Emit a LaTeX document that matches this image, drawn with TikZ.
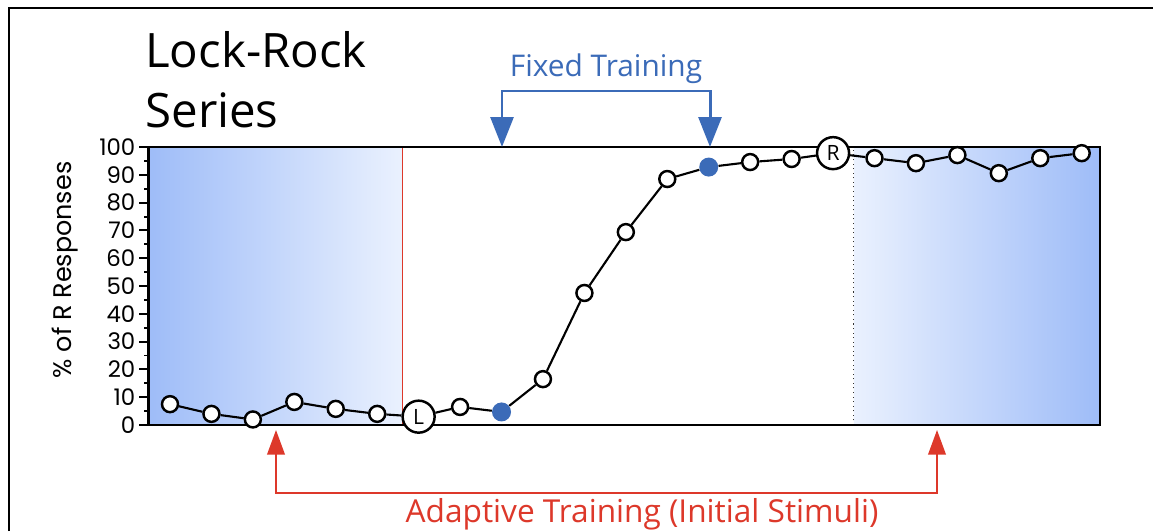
\documentclass[tikz,border=0pt]{standalone}
\usepackage{fontspec}
\setmainfont{Open Sans}
\newfontfamily\tickfont{Poppins}
\usetikzlibrary{
    arrows.meta, % For the triangle tips of the brackets
    calc         % For coordinate calculations
}

\definecolor{fixblue}{RGB}{59,107,184}
\definecolor{adaptred}{RGB}{221,56,42}
\definecolor{deepshade}{RGB}{158,188,248}
\definecolor{paleshade}{RGB}{234,241,254}

\begin{document}
\begin{tikzpicture}[
    x=0.02cm, y=-0.02cm, % one unit is one pixel of the layout, y runs downwards
    open_point/.style={circle, draw=black, fill=white, line width=1.4pt, minimum size=0.32cm, inner sep=0pt},
    fixed_point/.style={circle, fill=fixblue, minimum size=0.38cm, inner sep=0pt},
    probe_point/.style={circle, draw=black, fill=white, line width=1.4pt, minimum size=0.64cm, inner sep=0pt, font=\fontsize{12}{12}\selectfont},
    link_line/.style={black, line width=1.2pt},
    axis_line/.style={black, line width=1.1pt},
    tick_label/.style={font=\tickfont\fontsize{13}{13}\selectfont, anchor=east, inner sep=1.5pt},
    fix_arrow/.style={draw=fixblue, line width=1.7pt, {Triangle[length=17pt,width=13pt]}-{Triangle[length=17pt,width=13pt]}},
    adapt_arrow/.style={draw=adaptred, line width=1.1pt, {Triangle[length=14pt,width=10pt]}-{Triangle[length=14pt,width=10pt]}}
]
    \useasboundingbox (0,0) rectangle (1153,531);
    \fill[white] (0,0) rectangle (1153,531);

    % Plot edges in trial units
    \def\xl{0.47}
    \def\xr{23.44}

    \begin{scope}[shift={(128.55,425)}, x=0.829cm, y=0.0556cm]
        % Shaded adaptive blocks
        \fill[left color=deepshade, right color=paleshade] (\xl,0) rectangle (6.6,100);
        \fill[left color=paleshade, right color=deepshade] (17.5,0) rectangle (\xr,100);
        \draw[adaptred, line width=0.5pt] (6.6,0) -- (6.6,100);
        \draw[black!80, dotted, line width=0.6pt] (17.5,0) -- (17.5,100);

        % Frame and y axis
        \draw[axis_line] (\xl,100) -- (\xr,100) -- (\xr,0) -- (\xl,0);
        \draw[black, line width=1.7pt] (\xl,0) -- (\xl,100);
        \foreach \v in {0,10,...,100}
            \draw[axis_line] (\xl,\v) -- ++(-0.22,0) node[tick_label] (tick\v) {\v};
        \foreach \v in {5,15,...,95}
            \draw[axis_line] (\xl,\v) -- ++(-0.1,0);

        % Data points
        \foreach \i/\v/\s in {1/7.5/open_point, 2/4/open_point, 3/2/open_point, 4/8.3/open_point,
                5/5.8/open_point, 6/4/open_point, 8/6.5/open_point, 9/4.7/fixed_point,
                10/16.5/open_point, 11/47.5/open_point, 12/69.4/open_point, 13/88.5/open_point,
                14/92.8/fixed_point, 15/94.6/open_point, 16/95.7/open_point, 18/96/open_point,
                19/94.2/open_point, 20/97.1/open_point, 21/90.6/open_point, 22/96/open_point,
                23/97.8/open_point}
            \node[\s] (p\i) at (\i,\v) {};
        \node[probe_point] (p7) at (7,3) {L};
        \node[probe_point] (p17) at (17,97.8) {R};

        \foreach \i [remember=\i as \last (initially 1)] in {2,...,23}
            \draw[link_line] (p\last) -- (p\i);
    \end{scope}

    % Outer frame, cut at the right and bottom
    \draw[black, line width=1.7pt] (9,531) -- (9,8) -- (1153,8);

    % Titles and axis label
    \node[font=\fontsize{27}{34}\selectfont, align=left, anchor=north west, inner sep=0pt] (title) at (145,31) {Lock-Rock\\Series};
    \node[font=\tickfont\fontsize{14.5}{14.5}\selectfont, rotate=90] (ylabel) at (65,270) {\% of R Responses};

    % Fixed training bracket
    \coordinate (fix_a) at (502,147);
    \coordinate (fix_b) at (710,147);
    \draw[fix_arrow] (fix_a) -- ++(0,-56) -| (fix_b);
    \node[fixblue, font=\fontsize{17}{17}\selectfont, anchor=base] (fix_text) at (606,76) {Fixed Training};

    % Adaptive training bracket
    \coordinate (adapt_a) at (276,430);
    \coordinate (adapt_b) at (937,430);
    \draw[adapt_arrow] (adapt_a) -- ++(0,63) -| (adapt_b);
    \node[adaptred, font=\fontsize{18}{18}\selectfont, anchor=base] (adapt_text) at (642,522) {Adaptive Training (Initial Stimuli)};
\end{tikzpicture}
\end{document}
